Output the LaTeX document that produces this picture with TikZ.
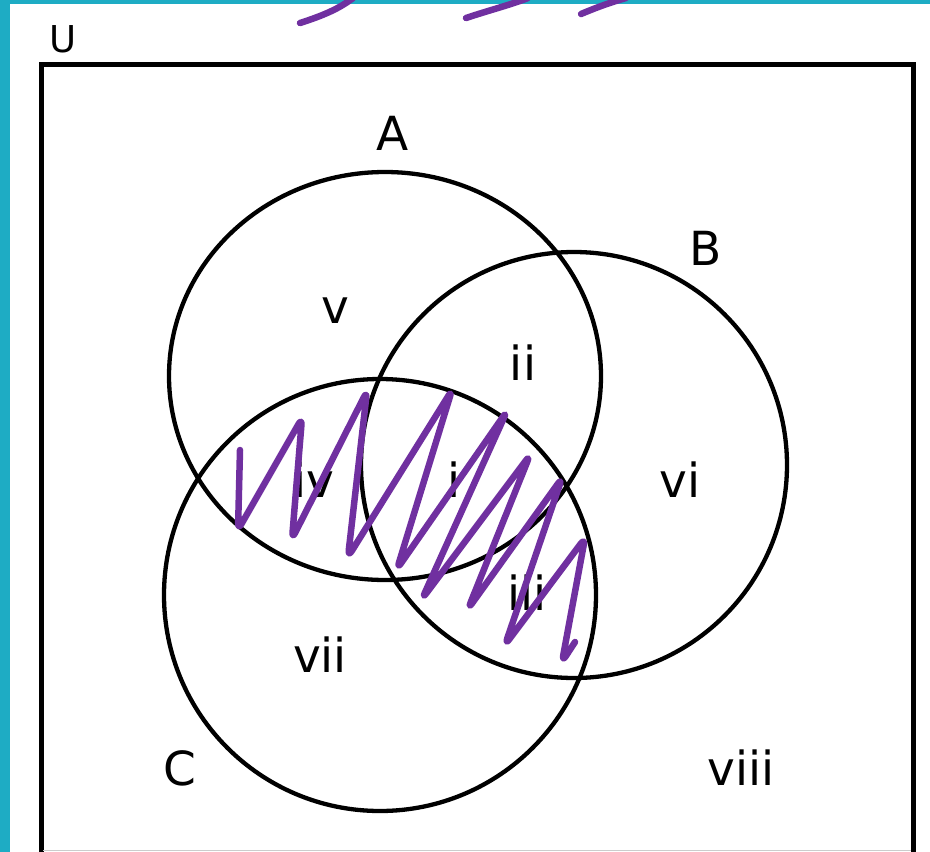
\documentclass[tikz,border=0pt]{standalone}
\usepackage{fontspec}
\setmainfont{DejaVu Sans}
\usepackage{xcolor}
\usepackage{tikz}
\definecolor{slideteal}{RGB}{30,172,196}
\definecolor{penpurple}{RGB}{112,48,160}

\begin{document}
\begin{tikzpicture}[
    x=1pt, y=-1pt,
    setline/.style={draw=black, line width=4.3pt},
    lbl/.style={anchor=base, inner sep=0pt, font=\fontsize{47}{56}\selectfont},
    ink/.style={draw=penpurple, line width=6.5pt, line cap=round, line join=round, rounded corners=7pt},
]
    \useasboundingbox (0,0) rectangle (930,852);
    % Slide background
    \fill[slideteal] (0,0) rectangle (930,852);
    \fill[white] (10,4) rectangle (930,852);

    % Universe
    \draw[line width=5pt] (41,860) |- (913,64) -- (913,860);
    \draw[gray!40, line width=0.8pt] (43,850) -- (911,850);
    \node[lbl, font=\fontsize{37}{44}\selectfont] (set_u) at (63,52) {U};

    % Sets A, B, C
    \draw[setline] (385,376) ellipse [x radius=216pt, y radius=204pt];
    \draw[setline] (574,465) circle [radius=213pt];
    \draw[setline] (380,595) circle [radius=216pt];
    \node[lbl] (set_a) at (393,150) {A};
    \node[lbl] (set_b) at (706,265) {B};
    \node[lbl] (set_c) at (180,785) {C};

    % Regions
    \node[lbl] (reg_i) at (454,497) {i};
    \node[lbl] (reg_ii) at (523,380) {ii};
    \node[lbl] (reg_iii) at (527,610) {iii};
    \node[lbl] (reg_iv) at (314,497) {iv};
    \node[lbl] (reg_v) at (335,323) {v};
    \node[lbl] (reg_vi) at (680,497) {vi};
    \node[lbl] (reg_vii) at (320,672) {vii};
    \node[lbl] (reg_viii) at (741,785) {viii};

    % Pen marks
    \draw[ink] (240,450) -- (238,530) -- (302,418) -- (292,539) -- (367,391) -- (348,557)
        -- (452,390) -- (397,569) -- (507,411) -- (422,599) -- (530,455) -- (468,609)
        -- (562,478) -- (505,645) -- (585,538) -- (562,662) -- (575,642);
    \draw[ink] (300,23) .. controls (325,15) and (340,8) .. (353,-2);
    \draw[ink] (466,18) .. controls (490,10) and (510,5) .. (528,-2);
    \draw[ink] (581,14) .. controls (600,6) and (612,2) .. (626,-2);
\end{tikzpicture}
\end{document}
